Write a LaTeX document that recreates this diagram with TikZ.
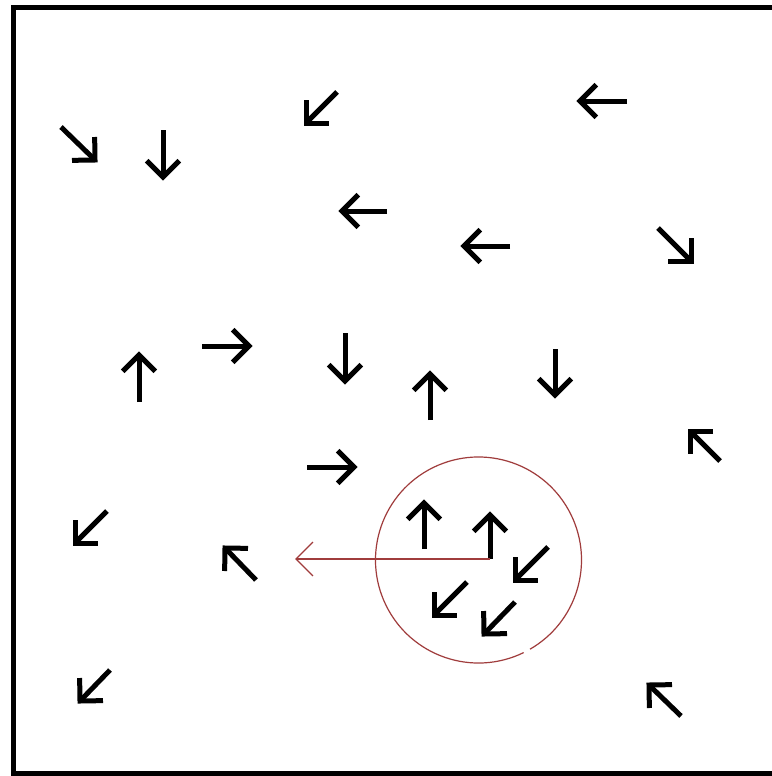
\documentclass[tikz,border=0pt]{standalone}
\usetikzlibrary{calc}
\definecolor{ring}{RGB}{160,60,60}
\tikzset{
  blk/.style={line width=5pt, black, line cap=butt, line join=miter},
  redl/.style={line width=1.2pt, ring},
  frame/.style={line width=5pt, black}
}
\newcommand\barr[4]{%
  \draw[blk] (#1,#2) -- (#3,#4);
  \draw[blk] ($(#3,#4)!23pt!45:(#1,#2)$) -- (#3,#4) -- ($(#3,#4)!23pt!-45:(#1,#2)$);
}
\begin{document}
\begin{tikzpicture}[x=1pt,y=-1pt]
\useasboundingbox (0,0) rectangle (771,776);
\fill[white] (0,0) rectangle (771,776);
\draw[frame] (775,7.5) -- (13.5,7.5) -- (13.5,773) -- (775,773);
% arrows: tail -> head
\barr{61}{127}{95}{160}
\barr{163}{130}{163}{177}
\barr{337}{92}{306}{123}
\barr{627}{101}{580}{101}
\barr{387}{211}{342}{211}
\barr{510}{246}{464}{246}
\barr{658}{228}{691}{261}
\barr{139}{402}{139}{355}
\barr{202}{346}{249}{346}
\barr{345}{333}{345}{381}
\barr{430}{420}{430}{374}
\barr{555}{349}{555}{395}
\barr{720}{461}{690}{431}
\barr{307}{467}{354}{467}
\barr{424}{549}{424}{503}
\barr{490}{559}{490}{515}
\barr{548}{547}{515}{580}
\barr{467}{582}{434}{615}
\barr{515}{602}{484}{634}
\barr{107}{511}{75}{543}
\barr{256}{580}{225}{548}
\barr{110}{670}{80}{701}
\barr{681}{716}{649}{685}
% red circle and arrow
\coordinate (c) at (478.5,560);
\draw[redl] (c) ++(64:103) arc[start angle=64, end angle=420, radius=103];
\coordinate (rt) at (490,559);
\coordinate (rh) at (296,559);
\draw[redl] (rt) -- (rh);
\draw[redl] ($(rh)!24pt!45:(rt)$) -- (rh) -- ($(rh)!24pt!-45:(rt)$);
\end{tikzpicture}
\end{document}
